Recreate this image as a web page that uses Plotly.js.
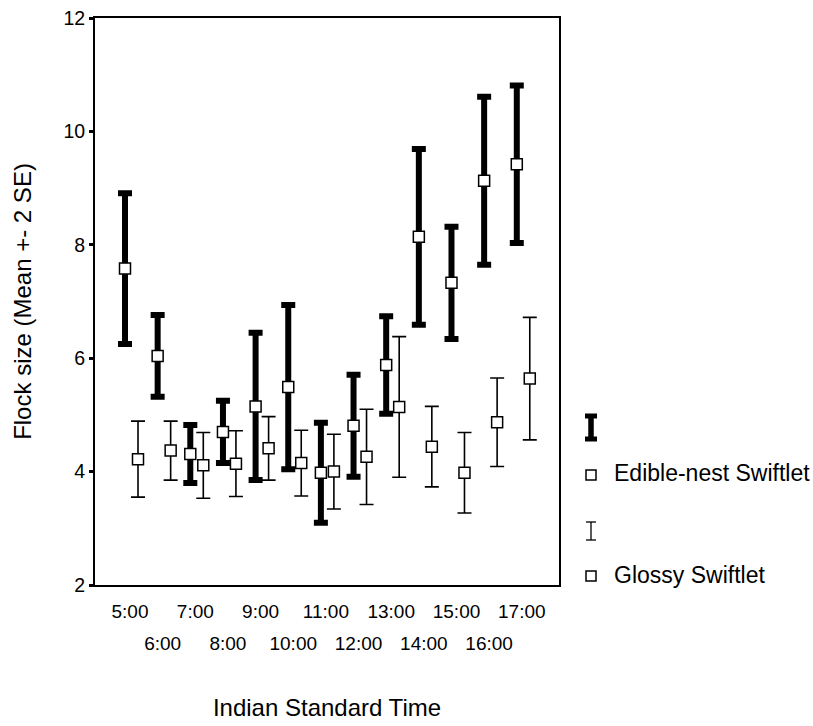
<!DOCTYPE html>
<html>
<head>
<meta charset="utf-8">
<script src="https://cdn.plot.ly/plotly-3.0.1.min.js"></script>
<style>html,body{margin:0;padding:0;background:#fff;}#chart{width:813px;height:726px;}</style>
</head>
<body>
<div id="chart"></div>
<script>
// ---- data ----
const hours = ['5:00','6:00','7:00','8:00','9:00','10:00','11:00','12:00','13:00','14:00','15:00','16:00','17:00'];
const edibleMean = [7.58, 6.04, 4.31, 4.70, 5.15, 5.49, 3.98, 4.81, 5.88, 8.14, 7.33, 9.13, 9.42];
const edibleErr  = [1.33, 0.72, 0.51, 0.55, 1.30, 1.45, 0.88, 0.90, 0.86, 1.55, 0.99, 1.48, 1.39];
const glossyMean = [4.22, 4.37, 4.11, 4.14, 4.41, 4.15, 4.00, 4.26, 5.14, 4.44, 3.98, 4.87, 5.64];
const glossyErr  = [0.67, 0.52, 0.58, 0.58, 0.56, 0.58, 0.66, 0.84, 1.24, 0.71, 0.71, 0.78, 1.08];
const seriesNames = ['Edible-nest Swiftlet', 'Glossy Swiftlet'];

// ---- layout constants ----
const W = 813, H = 726;
const M = {l: 95, r: 254, t: 18, b: 141};
const edibleOffset = -0.153, glossyOffset = 0.245;
const FONT = 'Liberation Sans, Arial, Helvetica, sans-serif';

const idx = hours.map((_, i) => i);
const xEd = idx.map(i => i + edibleOffset);
const xGl = idx.map(i => i + glossyOffset);
const evenIdx = idx.filter(i => i % 2 === 0);
const oddIdx = idx.filter(i => i % 2 === 1);

const markerStyle = {symbol: 'square', size: 11, color: '#fff', line: {color: '#000', width: 1.5}};
const hidden = {size: 1, color: 'rgba(0,0,0,0)'};

const traces = [
  {x: xEd, y: edibleMean, type: 'scatter', mode: 'markers', marker: hidden, showlegend: false, hoverinfo: 'skip',
   error_y: {type: 'data', array: edibleErr, visible: true, color: '#000', thickness: 6, width: 7}},
  {x: xGl, y: glossyMean, type: 'scatter', mode: 'markers', marker: hidden, showlegend: false, hoverinfo: 'skip',
   error_y: {type: 'data', array: glossyErr, visible: true, color: '#000', thickness: 1.6, width: 7}},
  {x: xEd, y: edibleMean, type: 'scatter', mode: 'markers', name: seriesNames[0], marker: markerStyle, showlegend: false},
  {x: xGl, y: glossyMean, type: 'scatter', mode: 'markers', name: seriesNames[1], marker: markerStyle, showlegend: false},
  // invisible trace to drive the second row of x tick labels
  {x: [oddIdx[0]], y: [2], xaxis: 'x2', type: 'scatter', mode: 'markers', marker: hidden, showlegend: false, hoverinfo: 'skip'}
];

// legend helpers (pixel -> paper)
const plotW = W - M.l - M.r, plotH = H - M.t - M.b;
const px = v => (v - M.l) / plotW;
const py = v => (H - M.b - v) / plotH;
const shapes = [];
function line(x0, y0, x1, y1, w) {
  shapes.push({type: 'line', xref: 'paper', yref: 'paper', x0: px(x0), y0: py(y0), x1: px(x1), y1: py(y1), line: {color: '#000', width: w}});
}
function box(cx, cy, s) {
  shapes.push({type: 'rect', xref: 'paper', yref: 'paper', x0: px(cx - s/2), x1: px(cx + s/2), y0: py(cy + s/2), y1: py(cy - s/2),
    line: {color: '#000', width: 1.5}, fillcolor: '#fff'});
}
// thick legend glyph
line(591, 415, 591, 440, 5.5);
line(585, 416, 597, 416, 5);
line(585, 439, 597, 439, 5);
box(591, 475, 10);
// thin legend glyph
line(591, 522, 591, 540, 1.3);
line(586, 522, 596, 522, 1.3);
line(586, 540, 596, 540, 1.3);
box(591, 576, 10);

const annotations = [
  {xref: 'paper', yref: 'paper', x: px(612), y: py(473), xanchor: 'left', yanchor: 'middle', showarrow: false,
   text: seriesNames[0], font: {family: FONT, size: 23, color: '#000'}},
  {xref: 'paper', yref: 'paper', x: px(612), y: py(575), xanchor: 'left', yanchor: 'middle', showarrow: false,
   text: seriesNames[1], font: {family: FONT, size: 23, color: '#000'}}
];

const range = [-1.072, 13.14];
const layout = {
  width: W, height: H, margin: M,
  paper_bgcolor: '#fff', plot_bgcolor: '#fff',
  font: {family: FONT, color: '#000'},
  showlegend: false,
  xaxis: {
    range: range, showgrid: false, zeroline: false, showline: true, mirror: true, linecolor: '#000', linewidth: 2,
    ticks: '', tickmode: 'array', tickvals: evenIdx, ticktext: evenIdx.map(i => hours[i]),
    tickfont: {family: FONT, size: 19, color: '#000'}, ticklabelstandoff: 8,
    title: {text: 'Indian Standard Time', font: {family: FONT, size: 24, color: '#000'}, standoff: 78}
  },
  xaxis2: {
    range: range, overlaying: 'x', anchor: 'y', side: 'bottom', showgrid: false, zeroline: false, showline: false,
    ticks: '', tickmode: 'array', tickvals: oddIdx, ticktext: oddIdx.map(i => hours[i]),
    tickfont: {family: FONT, size: 19, color: '#000'}, ticklabelstandoff: 45
  },
  yaxis: {
    range: [2, 12], showgrid: false, zeroline: false, showline: true, mirror: true, linecolor: '#000', linewidth: 2,
    ticks: 'outside', ticklen: 4, tickwidth: 3, tickcolor: '#000', tickvals: [2, 4, 6, 8, 10, 12],
    tickfont: {family: FONT, size: 19.5, color: '#000'},
    title: {text: 'Flock size (Mean +- 2 SE)', font: {family: FONT, size: 24, color: '#000'}, standoff: 25}
  },
  shapes: shapes,
  annotations: annotations
};

Plotly.newPlot('chart', traces, layout, {displayModeBar: false, staticPlot: true});
</script>
</body>
</html>
